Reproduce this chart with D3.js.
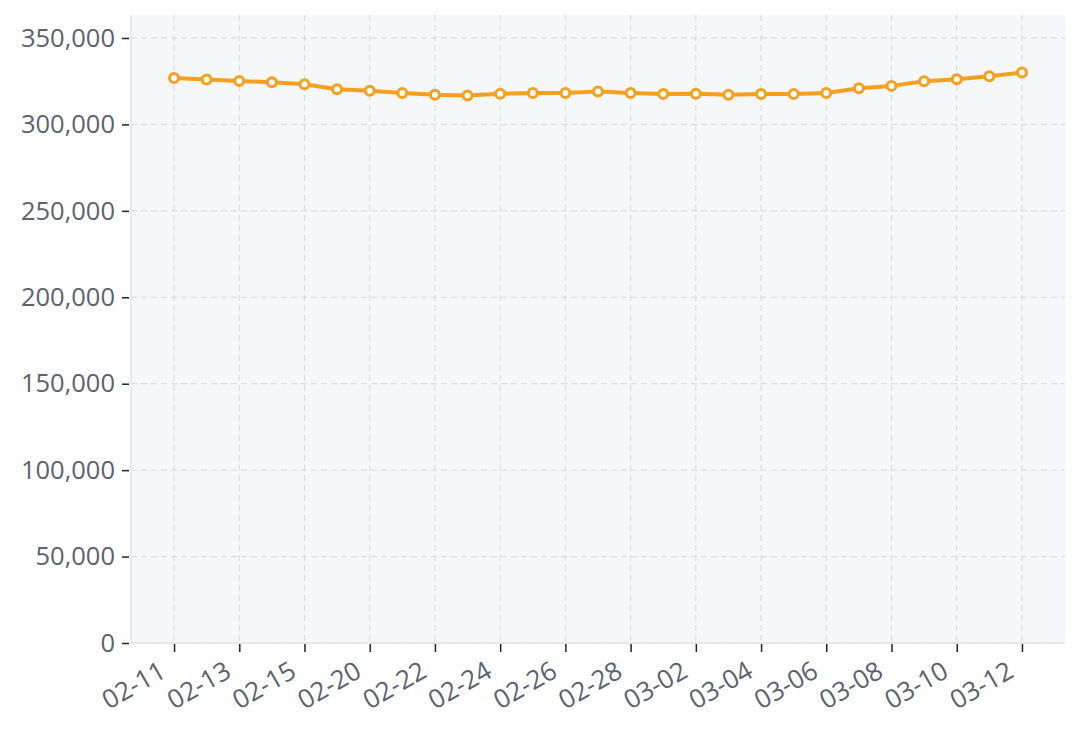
<!DOCTYPE html>
<html>
<head>
<meta charset="utf-8">
<script src="https://cdn.jsdelivr.net/npm/d3@7"></script>
<style>
  html, body { margin: 0; padding: 0; background: #ffffff; }
  svg { display: block; font-family: "Open Sans", "Noto Sans", sans-serif; }
</style>
</head>
<body>
<svg id="chart" width="1080" height="735"></svg>
<script>
const categories = ["02-11","02-12","02-13","02-14","02-15","02-19","02-20","02-21","02-22","02-23","02-24","02-25","02-26","02-27","02-28","03-01","03-02","03-03","03-04","03-05","03-06","03-07","03-08","03-09","03-10","03-11","03-12"];
const values = [326800,326000,325100,324400,323300,320300,319500,318200,317200,316800,317800,318200,318200,319000,318200,317600,317800,317200,317600,317600,318200,320900,322300,325000,326200,327900,330000];
const yTicks = [0,50000,100000,150000,200000,250000,300000,350000];

const W = 1080, H = 735;
const m = { left: 131, right: 15, top: 15, bottom: 92 };
const iw = W - m.left - m.right, ih = H - m.top - m.bottom;
const svg = d3.select("#chart");
const g = svg.append("g").attr("transform", `translate(${m.left},${m.top})`);

const x = d3.scalePoint().domain(categories).range([0, iw]).padding(1.32);
const y = d3.scaleLinear().domain([0, 350000]).range([ih, ih - 605]);

g.append("rect").attr("x", 0).attr("y", 0).attr("width", iw).attr("height", ih).attr("fill", "#f6f7f9");

// grid
g.append("g").selectAll("line").data(yTicks).join("line")
  .attr("x1", 0).attr("x2", iw).attr("y1", d => y(d)).attr("y2", d => y(d))
  .attr("stroke", "#d5d8dc").attr("stroke-width", 1).attr("stroke-dasharray", "6,4");
const shownCats = categories.filter((d, i) => i % 2 === 0);
g.append("g").selectAll("line").data(shownCats).join("line")
  .attr("x1", d => x(d)).attr("x2", d => x(d)).attr("y1", 0).attr("y2", ih)
  .attr("stroke", "#d5d8dc").attr("stroke-width", 1).attr("stroke-dasharray", "6,4");

// axes lines
g.append("line").attr("x1", 0).attr("x2", 0).attr("y1", 0).attr("y2", ih).attr("stroke", "#e3e5e8").attr("stroke-width", 1.5);
g.append("line").attr("x1", 0).attr("x2", iw).attr("y1", ih).attr("y2", ih).attr("stroke", "#e3e5e8").attr("stroke-width", 1.5);

// y axis
const yAxis = g.append("g").call(d3.axisLeft(y).tickValues(yTicks).tickFormat(d3.format(",")).tickSize(7).tickPadding(6));
yAxis.select(".domain").remove();
yAxis.selectAll(".tick line").attr("stroke", "#222").attr("stroke-width", 1.5).attr("transform", "translate(-2,0)");
yAxis.selectAll(".tick text").attr("fill", "#5b6270").attr("font-size", 25.5).attr("font-family", "'Open Sans', sans-serif").attr("x", -16);

// x axis
const xAxis = g.append("g").attr("transform", `translate(0,${ih})`)
  .call(d3.axisBottom(x).tickValues(shownCats).tickSize(8).tickPadding(6));
xAxis.select(".domain").remove();
xAxis.selectAll(".tick line").attr("stroke", "#222").attr("stroke-width", 1.5).attr("y1", 1).attr("y2", 9);
xAxis.selectAll(".tick text")
  .attr("fill", "#5b6270").attr("font-size", 26).attr("font-family", "'Open Sans', sans-serif")
  .attr("text-anchor", "end").attr("dy", "0").attr("y", 0)
  .attr("transform", "translate(-7,33) rotate(-30)");

// line
const line = d3.line().x((d, i) => x(categories[i])).y(d => y(d));
g.append("path").datum(values).attr("d", line).attr("fill", "none")
  .attr("stroke", "#f7a01e").attr("stroke-width", 4).attr("stroke-linejoin", "round");
g.append("g").selectAll("circle").data(values).join("circle")
  .attr("cx", (d, i) => x(categories[i])).attr("cy", d => y(d)).attr("r", 4.5)
  .attr("fill", "#ffffff").attr("stroke", "#f7a01e").attr("stroke-width", 3);
</script>
</body>
</html>
